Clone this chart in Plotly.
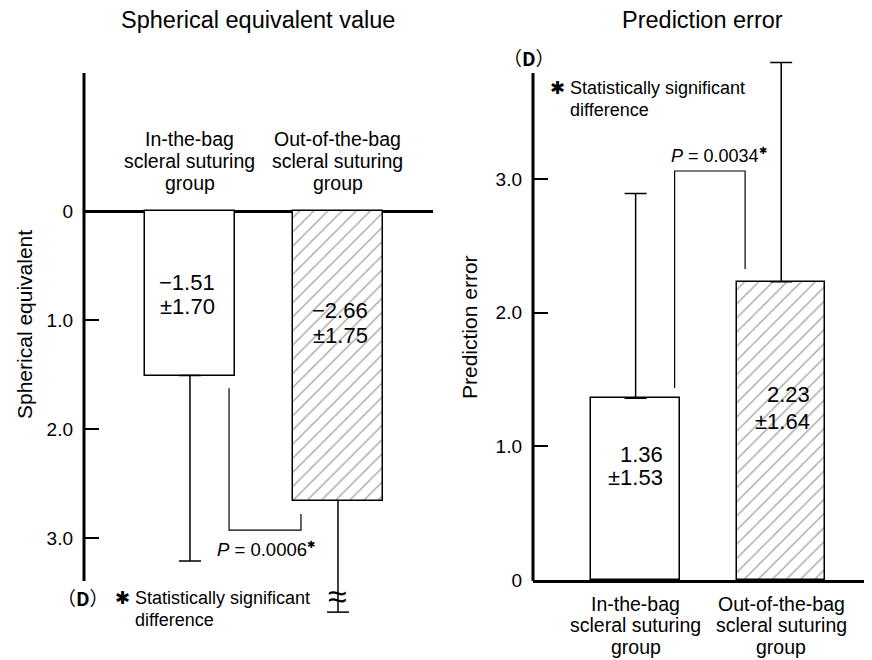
import plotly.graph_objects as go

# ---------------- data ----------------
groups = ["In-the-bag scleral suturing group", "Out-of-the-bag scleral suturing group"]
group_lines = [["In-the-bag", "scleral suturing", "group"],
               ["Out-of-the-bag", "scleral suturing", "group"]]
se_mean = [-1.51, -2.66]          # spherical equivalent (D)
se_sd = [1.70, 1.75]
pe_mean = [1.36, 2.23]            # prediction error (D)
pe_sd = [1.53, 1.64]
p_se = "0.0006"
p_pe = "0.0034"
se_tickvals = [0, -1, -2, -3]
se_ticktext = ["0", "1.0", "2.0", "3.0"]
pe_tickvals = [0, 1, 2, 3]
pe_ticktext = ["0", "1.0", "2.0", "3.0"]
titles = ["Spherical equivalent value", "Prediction error"]
ytitles = ["Spherical equivalent", "Prediction error"]

# ---------------- layout helpers ----------------
# the page body has an 8px margin, so the figure is offset by 8px in the window
OFF = 8
W, H = 872 - OFF, 660 - OFF
FONT = "Liberation Sans, Arial, Helvetica, sans-serif"
x_idx = list(range(len(groups)))
BAR_W = 0.608


def py(p):
    return 1 - (p - OFF) / H


def px(p):
    return (p - OFF) / W


fig = go.Figure()

# ---- left panel: spherical equivalent ----
fig.add_trace(go.Bar(
    x=[x_idx[0]], y=[se_mean[0]], width=BAR_W, xaxis="x", yaxis="y",
    marker=dict(color="white", line=dict(color="black", width=1.5)),
    error_y=dict(type="data", symmetric=False, array=[0], arrayminus=[se_sd[0]],
                 color="black", thickness=1.5, width=11),
    showlegend=False, hoverinfo="skip"))
fig.add_trace(go.Bar(
    x=[x_idx[1]], y=[se_mean[1]], width=BAR_W, xaxis="x", yaxis="y",
    marker=dict(color="white", line=dict(color="black", width=1.5),
                pattern=dict(shape="/", fgcolor="#444", bgcolor="white", size=10, solidity=0.13)),
    showlegend=False, hoverinfo="skip"))

# broken error bar of the second group (its end lies beyond the axis)
BREAK_END = -3.68
cap = 11 / 148
fig.add_trace(go.Scatter(x=[x_idx[1], x_idx[1]], y=[se_mean[1], BREAK_END], mode="lines",
                         line=dict(color="black", width=1.5), xaxis="x", yaxis="y",
                         showlegend=False, hoverinfo="skip"))
fig.add_trace(go.Scatter(x=[x_idx[1] - cap, x_idx[1] + cap], y=[BREAK_END, BREAK_END], mode="lines",
                         line=dict(color="black", width=1.5), xaxis="x", yaxis="y",
                         showlegend=False, hoverinfo="skip"))

# significance bracket (left)
fig.add_trace(go.Scatter(x=[0.264, 0.264, 0.75, 0.75],
                         y=[se_mean[0] - 0.115, -2.927, -2.927, se_mean[1] - 0.12],
                         mode="lines", line=dict(color="black", width=1.2), xaxis="x", yaxis="y",
                         showlegend=False, hoverinfo="skip"))

# ---- right panel: prediction error ----
fig.add_trace(go.Bar(
    x=[x_idx[0]], y=[pe_mean[0]], width=BAR_W, xaxis="x2", yaxis="y2",
    marker=dict(color="white", line=dict(color="black", width=1.5)),
    error_y=dict(type="data", symmetric=False, array=[pe_sd[0]], arrayminus=[0],
                 color="black", thickness=1.5, width=11),
    showlegend=False, hoverinfo="skip"))
fig.add_trace(go.Bar(
    x=[x_idx[1]], y=[pe_mean[1]], width=BAR_W, xaxis="x2", yaxis="y2",
    marker=dict(color="white", line=dict(color="black", width=1.5),
                pattern=dict(shape="/", fgcolor="#444", bgcolor="white", size=10, solidity=0.13)),
    error_y=dict(type="data", symmetric=False, array=[pe_sd[1]], arrayminus=[0],
                 color="black", thickness=1.5, width=11),
    showlegend=False, hoverinfo="skip"))
fig.add_trace(go.Scatter(x=[0.268, 0.268, 0.752, 0.752],
                         y=[pe_mean[0] + 0.076, 3.059, 3.059, pe_mean[1] + 0.096],
                         mode="lines", line=dict(color="black", width=1.2), xaxis="x2", yaxis="y2",
                         showlegend=False, hoverinfo="skip"))

tickfont = dict(family=FONT, size=19, color="black")
fig.update_layout(
    width=W, height=H, margin=dict(l=0, r=0, t=0, b=0, autoexpand=False),
    paper_bgcolor="white", plot_bgcolor="rgba(0,0,0,0)",
    font=dict(family=FONT, color="black"),
    bargap=0,
    xaxis=dict(domain=[px(84), px(433)], range=[-0.716, 1.642], showgrid=False,
               zeroline=False, showticklabels=False, ticks="", showline=False, automargin=False),
    yaxis=dict(domain=[py(620), py(73)], range=[-(620 - 211) / 109, (211 - 73) / 109],
               showgrid=False, zeroline=True, zerolinecolor="black", zerolinewidth=2.5,
               tickvals=se_tickvals, ticktext=se_ticktext, ticks="inside", ticklen=15,
               tickwidth=1.5, tickcolor="black", tickfont=tickfont, showline=False,
               ticklabelstandoff=10, automargin=False),
    xaxis2=dict(domain=[px(533), 1.0], range=[-0.705, 1.570 + 8 / 149], anchor="y2", showgrid=False,
                zeroline=False, showticklabels=False, ticks="", showline=True,
                linecolor="black", linewidth=3, automargin=False),
    yaxis2=dict(domain=[py(580), py(55)], range=[0, (580 - 55) / 133.7], anchor="x2",
                showgrid=False, zeroline=False,
                tickvals=pe_tickvals, ticktext=pe_ticktext, ticks="inside", ticklen=15,
                tickwidth=1.5, tickcolor="black", tickfont=tickfont, showline=False,
                ticklabelstandoff=10, automargin=False),
)

# axis lines (stop short of the plotting area top like the original)
shapes = [
    dict(type="line", xref="paper", yref="paper", x0=px(84), x1=px(84), y0=py(73), y1=py(581),
         line=dict(color="black", width=3)),
    dict(type="line", xref="paper", yref="paper", x0=px(533), x1=px(533), y0=py(73), y1=py(581),
         line=dict(color="black", width=3)),
]
fig.update_layout(shapes=shapes)

ann = []


def add_text(text, x, y, size, xref="paper", xanchor="center", xshift=0, angle=0, family=FONT):
    ann.append(dict(text=text, x=x, y=y, xref=xref, yref="paper", showarrow=False,
                    xanchor=xanchor, yanchor="middle", xshift=xshift, textangle=angle,
                    font=dict(family=family, size=size, color="black")))


# titles
add_text(titles[0], px(258), py(20), 23.5)
add_text(titles[1], px(702), py(20), 23.5)
# y-axis titles
add_text(ytitles[0], px(24), py(325), 21, angle=-90)
add_text(ytitles[1], px(470), py(327), 21, angle=-90)

# category labels
for i, lines in enumerate(group_lines):
    for j, line in enumerate(lines):
        add_text(line, x_idx[i], py([139, 161, 183][j]), 19.5, xref="x")
        add_text(line, x_idx[i], py([604, 625, 647][j]), 19.5, xref="x2")

# value labels in bars
se_lbl_y = [[282, 306], [310, 335]]
se_shift = [27, 32]
for i in range(2):
    add_text(f"\u2212{abs(se_mean[i]):.2f}", x_idx[i], py(se_lbl_y[i][0]), 22, xref="x",
             xanchor="right", xshift=se_shift[i])
    add_text(f"\u00b1{se_sd[i]:.2f}", x_idx[i], py(se_lbl_y[i][1]), 22, xref="x",
             xanchor="right", xshift=se_shift[i])
pe_lbl_y = [[454, 478], [394, 421]]
pe_shift = [29, 31]
for i in range(2):
    add_text(f"{pe_mean[i]:.2f}", x_idx[i], py(pe_lbl_y[i][0]), 22, xref="x2",
             xanchor="right", xshift=pe_shift[i])
    add_text(f"\u00b1{pe_sd[i]:.2f}", x_idx[i], py(pe_lbl_y[i][1]), 22, xref="x2",
             xanchor="right", xshift=pe_shift[i])

# p-values
small_star = "<sup><span style='font-size:10px'>\u2731</span></sup>"
add_text(f"<i>P</i> = {p_se}{small_star}", px(266), py(549), 18.5)
add_text(f"<i>P</i> = {p_pe}{small_star}", px(719), py(155), 18)

# unit labels
add_text("（<b>D</b>）", px(83), py(597), 19, family="Noto Sans CJK JP")
add_text("（<b>D</b>）", px(529), py(57), 19, family="Noto Sans CJK JP")

# footnotes
add_text("\u2731 Statistically significant", px(113), py(598), 18, xanchor="left")
add_text("difference", px(133), py(620), 18, xanchor="left")
add_text("\u2731 Statistically significant", px(548), py(88), 18, xanchor="left")
add_text("difference", px(568), py(110), 18, xanchor="left")

# axis-break symbol on the truncated error bar
add_text("\u2248", x_idx[1], py(596), 34, xref="x")

fig.update_layout(annotations=ann)
fig.write_html("out.html")
